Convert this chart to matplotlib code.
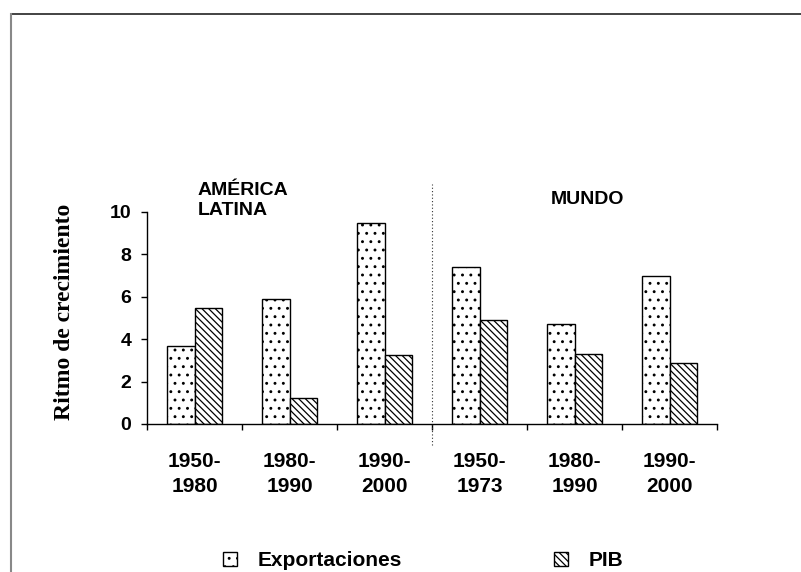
import matplotlib
matplotlib.use("Agg")
import matplotlib.pyplot as plt
from matplotlib.lines import Line2D
import numpy as np

# ---- data ----
periodos = ["1950-\n1980", "1980-\n1990", "1990-\n2000", "1950-\n1973", "1980-\n1990", "1990-\n2000"]
exportaciones = [3.7, 5.9, 9.5, 7.4, 4.7, 7.0]
pib = [5.45, 1.25, 3.25, 4.9, 3.3, 2.9]
region_labels = ["AMÉRICA\nLATINA", "MUNDO"]
serie_labels = ["Exportaciones", "PIB"]
y_ticks = [0, 2, 4, 6, 8, 10]

plt.rcParams["hatch.linewidth"] = 0.9
plt.rcParams["font.family"] = ["Liberation Sans", "DejaVu Sans"]

fig = plt.figure(figsize=(8.01, 5.72), dpi=100)
ax = fig.add_axes([147 / 801, 1 - 424 / 572, 570 / 801, 212 / 572])

x = np.arange(len(periodos)) + 0.5
w = 0.29
b1 = ax.bar(x - w / 2, exportaciones, w, facecolor="white", edgecolor="black",
            linewidth=1.0, hatch="..", label=serie_labels[0])
b2 = ax.bar(x + w / 2, pib, w, facecolor="white", edgecolor="black",
            linewidth=1.0, hatch="\\\\\\\\\\", label=serie_labels[1])

ax.set_xlim(0, len(periodos))
ax.set_ylim(0, 10)
ax.set_yticks(y_ticks)
ax.set_yticklabels([str(t) for t in y_ticks], fontsize=14, fontweight="bold")
ax.set_xticks(np.arange(len(periodos) + 1))
ax.set_xticklabels([])
ax.set_xticks(x, minor=True)
ax.set_xticklabels(periodos, minor=True, fontsize=15, fontweight="bold", linespacing=1.4)
ax.tick_params(axis="x", which="major", direction="out", length=4, width=1)
ax.tick_params(axis="x", which="minor", length=0, pad=20)
ax.tick_params(axis="y", direction="out", length=4.3, width=1, pad=7)
for s in ["top", "right"]:
    ax.spines[s].set_visible(False)
ax.spines["left"].set_linewidth(1)
ax.spines["bottom"].set_linewidth(1)

ax.set_ylabel("Ritmo de crecimiento", fontsize=17, fontweight="bold",
              family="Liberation Serif")
ax.yaxis.set_label_coords(-0.126, 0.53)

# separator
ax.plot([3, 3], [-1.0, 11.3], color="#333333", linestyle=(0, (1, 2)), linewidth=0.8,
        clip_on=False)

ax.text(0.537, 11.4, region_labels[0], fontsize=14, fontweight="bold", ha="left",
        va="top", linespacing=1.2)
ax.text(4.64, 10.57, region_labels[1], fontsize=14, fontweight="bold", ha="center",
        va="center")

fig.legend(handles=[b1, b2], labels=serie_labels, loc="center left",
           bbox_to_anchor=(223 / 801, 1 - 561 / 572), ncol=2, frameon=False,
           prop={"size": 15, "weight": "bold"}, handlelength=0.67, handleheight=0.67,
           handletextpad=1.0, columnspacing=7.3, borderpad=0, borderaxespad=0)

# figure frame (top and left)
fig.add_artist(Line2D([10.5 / 801, 1], [1 - 13.5 / 572, 1 - 13.5 / 572],
                      transform=fig.transFigure, color="#222222", linewidth=1.2))
fig.add_artist(Line2D([10.5 / 801, 10.5 / 801], [0, 1 - 13.5 / 572],
                      transform=fig.transFigure, color="#888888", linewidth=1.5))

fig.savefig("out.png", dpi=100)
